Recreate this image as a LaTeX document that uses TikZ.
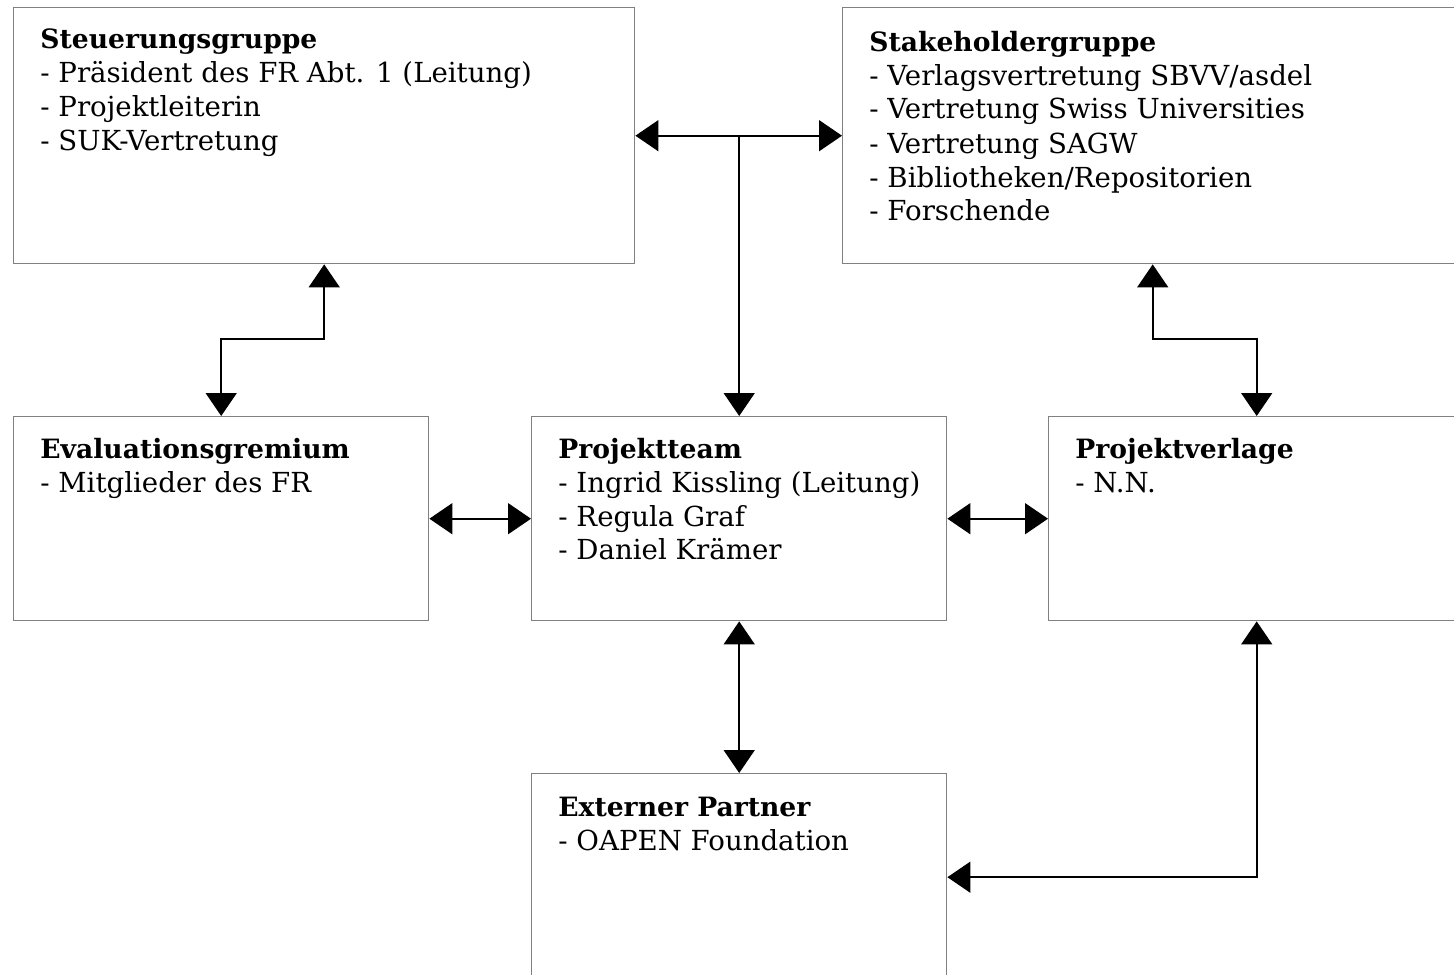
\documentclass[tikz,border=0pt]{standalone}
\usepackage{fontspec}
\setmainfont{DejaVu Serif}
\usetikzlibrary{arrows.meta}
\begin{document}
\begin{tikzpicture}[x=0.5pt,y=-0.5pt,
  box/.style={draw=black!50, line width=0.7pt, anchor=north west, inner sep=0pt, fill=none},
  ttl/.style={anchor=base west, inner sep=0pt, font=\fontsize{13.3}{16}\selectfont\bfseries},
  itm/.style={anchor=base west, inner sep=0pt, font=\fontsize{13.8}{16}\selectfont},
  tip/.tip={Triangle[length=11.5pt,width=15.5pt]},
  dbl/.style={line width=0.8pt, tip-tip},
  sgl/.style={line width=0.8pt, -tip}]
\useasboundingbox (0,0) rectangle (1454,974);
% boxes
\node[box, minimum width=310.5pt, minimum height=128pt] (steu) at (13,7) {};
\node[box, minimum width=310pt, minimum height=128pt] (stak) at (842,7) {};
\node[box, minimum width=207.5pt, minimum height=102pt] (eval) at (13,416) {};
\node[box, minimum width=207.5pt, minimum height=102pt] (team) at (531,416) {};
\node[box, minimum width=208pt, minimum height=102pt] (verl) at (1048,416) {};
\node[box, minimum width=207.5pt, minimum height=103.5pt] (ext) at (531,773) {};
% texts
\node[ttl] (steu0) at (40,49) {Steuerungsgruppe};
\node[itm] (steu1) at (40,83) {- Präsident des FR Abt. 1 (Leitung)};
\node[itm] (steu2) at (40,117) {- Projektleiterin};
\node[itm] (steu3) at (40,150) {- SUK-Vertretung};
\node[ttl] (stak0) at (869,52) {Stakeholdergruppe};
\node[itm] (stak1) at (869,85) {- Verlagsvertretung SBVV/asdel};
\node[itm] (stak2) at (869,119) {- Vertretung Swiss Universities};
\node[itm] (stak3) at (869,153) {- Vertretung SAGW};
\node[itm] (stak4) at (869,187) {- Bibliotheken/Repositorien};
\node[itm] (stak5) at (869,220) {- Forschende};
\node[ttl] (eval0) at (40,458) {Evaluationsgremium};
\node[itm] (eval1) at (40,492) {- Mitglieder des FR};
\node[ttl] (team0) at (558,458) {Projektteam};
\node[itm] (team1) at (558,492) {- Ingrid Kissling (Leitung)};
\node[itm] (team2) at (558,526) {- Regula Graf};
\node[itm] (team3) at (558,559) {- Daniel Krämer};
\node[ttl] (verl0) at (1075,458) {Projektverlage};
\node[itm] (verl1) at (1075,492) {- N.N.};
\node[ttl] (ext0) at (558,816) {Externer Partner};
\node[itm] (ext1) at (558,850) {- OAPEN Foundation};
% connectors
\coordinate (j1) at (team.north |- steu.east);
\draw[dbl] (steu.east) -- (stak.west);
\draw[sgl] (j1) -- (team.north);
\coordinate (b1) at (steu.south |- 0,339);
\draw[dbl] (steu.south) -- (b1) -| (eval.north);
\coordinate (b2) at (stak.south |- 0,339);
\draw[dbl] (stak.south) -- (b2) -| (verl.north);
\draw[dbl] (eval.east) -- (team.west);
\draw[dbl] (team.east) -- (verl.west);
\draw[dbl] (team.south) -- (ext.north);
\draw[dbl] (verl.south) |- (ext.east);
\end{tikzpicture}
\end{document}
